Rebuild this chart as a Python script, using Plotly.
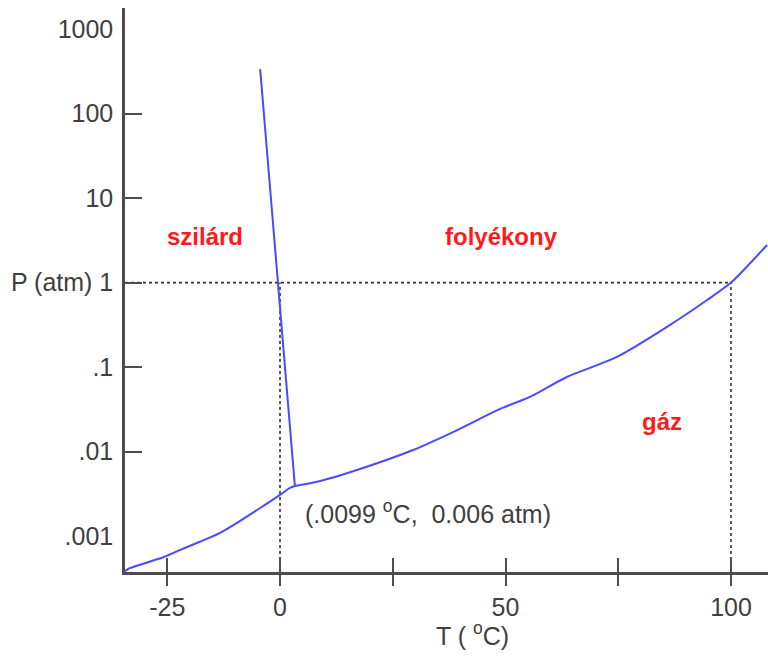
import plotly.graph_objects as go

# ---- data ----
# solid-liquid (fusion) line
fusion_T = [-4.4, -2.6, -0.4, 3.3]
fusion_P = [336, 23.3, 1.0, 0.0039]
# solid-gas (sublimation) line
subl_T = [-34.4, -33.3, -25.9, -20.6, -13.3, -4.4, 0.0, 2.2, 3.3]
subl_P = [3.85e-4, 4.17e-4, 5.62e-4, 7.43e-4, 1.09e-3, 2.15e-3, 3.07e-3, 3.72e-3, 3.92e-3]
# liquid-gas (vaporization) line
vap_T = [3.3, 8.9, 18.4, 29.5, 39.3, 48.8, 55.4, 63.6, 74.7, 85.8, 94.7, 100.0, 104.9, 108.0]
vap_P = [3.92e-3, 4.49e-3, 6.40e-3, 0.01045, 0.0180, 0.0320, 0.0444, 0.0764, 0.132, 0.299, 0.622, 1.0, 1.85, 2.79]

melting_point = (0, 1)     # T (oC), P (atm)
boiling_point = (100, 1)

x_ticks = [-25, 0, 25, 50, 75, 100]
x_ticktext = ["-25", "0", "", "50", "", "100"]
y_labels_vals = [0.001, 0.01, 0.1, 1, 10, 100, 1000]
y_labels_text = [".001", ".01", ".1", "P (atm) 1", "10", "100", "1000"]
y_ticks = [0.01, 0.1, 1, 10, 100]

region_labels = ["szilárd", "folyékony", "gáz"]
region_T = [-16.6, 49.2, 84.7]
region_logP = [0.54, 0.54, -1.64]

X_RANGE = [-34.37, 108.2]
Y_RANGE_LOG = [-3.425, 3.25]

BLUE = "#4a4aff"
RED = "#ff1a1a"
GREY = "#404040"
AXC = "#4d4d4d"
FONT = "Liberation Sans, Arial, sans-serif"

fig = go.Figure()

# reference dotted lines
dl = dict(color="#333333", width=1.6, dash="dot")
fig.add_trace(go.Scatter(x=[X_RANGE[0], boiling_point[0]], y=[1, 1], mode="lines", line=dl, hoverinfo="skip"))
fig.add_trace(go.Scatter(x=[melting_point[0], melting_point[0]], y=[10 ** Y_RANGE_LOG[0], melting_point[1]],
                         mode="lines", line=dl, hoverinfo="skip"))
fig.add_trace(go.Scatter(x=[boiling_point[0], boiling_point[0]], y=[10 ** Y_RANGE_LOG[0], boiling_point[1]],
                         mode="lines", line=dl, hoverinfo="skip"))

lw = dict(color=BLUE, width=2)
fig.add_trace(go.Scatter(x=fusion_T, y=fusion_P, mode="lines", line=lw, hoverinfo="skip"))
fig.add_trace(go.Scatter(x=subl_T, y=subl_P, mode="lines", line=dict(lw, shape="spline", smoothing=0.8),
                         hoverinfo="skip"))
fig.add_trace(go.Scatter(x=vap_T, y=vap_P, mode="lines", line=dict(lw, shape="spline", smoothing=0.8),
                         hoverinfo="skip"))

# dummy trace on secondary axes so they render
fig.add_trace(go.Scatter(x=[None], y=[None], xaxis="x2", yaxis="y2", showlegend=False, hoverinfo="skip"))

for txt, t, lp in zip(region_labels, region_T, region_logP):
    fig.add_annotation(x=t, y=lp, text="<b>" + txt + "</b>", showarrow=False,
                       font=dict(family=FONT, size=24, color=RED))

fig.add_annotation(x=5.1, y=-2.715, xanchor="left", text="(.0099 <sup>o</sup>C,  0.006 atm)", showarrow=False,
                   font=dict(family=FONT, size=25, color=GREY))
fig.add_annotation(x=0.541, y=-0.142, xref="paper", yref="paper", text="T ( <sup>o</sup>C)", showarrow=False,
                   font=dict(family=FONT, size=25, color=GREY))

fig.update_layout(
    width=768, height=667,
    margin=dict(l=125, r=0, t=8, b=95, autoexpand=False),
    paper_bgcolor="white", plot_bgcolor="white",
    showlegend=False,
    xaxis=dict(range=X_RANGE, showgrid=False, zeroline=False, showline=True, linecolor=AXC, linewidth=2.5,
               automargin=False,
               tickvals=x_ticks, ticktext=x_ticktext, ticks="outside", ticklen=11, tickwidth=2, tickcolor=AXC,
               ticklabelstandoff=0,
               tickfont=dict(family=FONT, size=25, color=GREY)),
    xaxis2=dict(range=X_RANGE, overlaying="x", anchor="y", side="bottom", showgrid=False, zeroline=False,
                automargin=False,
                showline=False, tickvals=x_ticks, ticks="inside", ticklen=14, tickwidth=2, tickcolor=AXC,
                showticklabels=False),
    yaxis=dict(type="log", range=Y_RANGE_LOG, showgrid=False, zeroline=False, showline=True, linecolor=AXC,
               automargin=False,
               linewidth=2.5, tickvals=y_labels_vals, ticktext=y_labels_text, ticks="",
               ticklabelstandoff=4,
               tickfont=dict(family=FONT, size=25, color=GREY)),
    yaxis2=dict(type="log", range=Y_RANGE_LOG, overlaying="y", anchor="x", side="left", showgrid=False,
                automargin=False,
                zeroline=False, showline=False, tickvals=y_ticks, ticks="inside", ticklen=17, tickwidth=2,
                tickcolor=AXC, showticklabels=False),
)

fig.write_html("out.html", config={"displayModeBar": False},
               post_script="document.body.style.margin='0';document.body.style.overflow='hidden';")
